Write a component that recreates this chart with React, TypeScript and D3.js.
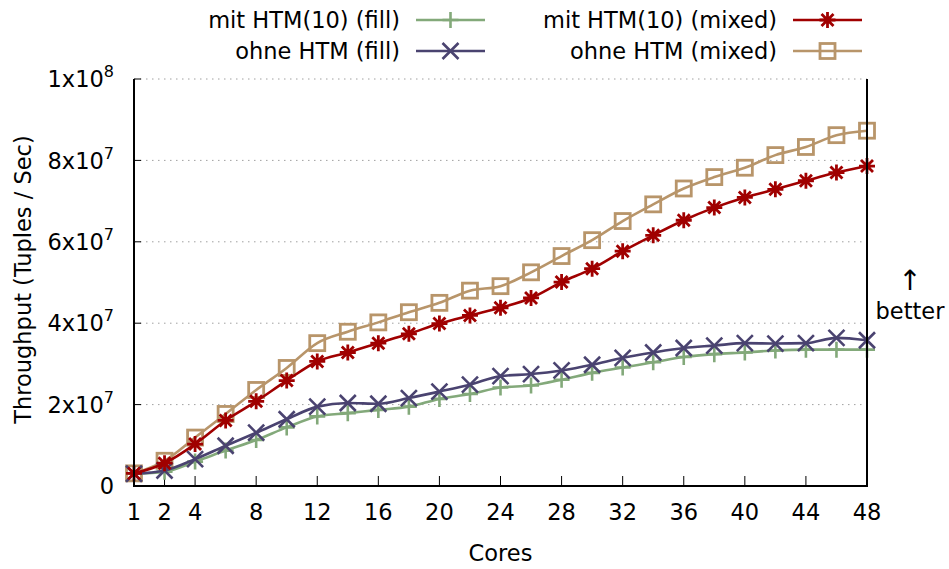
import React from 'react';
import * as d3 from 'd3';

// Cores measured (x axis); the 1-core run is drawn at the origin of the axis
const cores = [1, 2, 4, 6, 8, 10, 12, 14, 16, 18, 20, 22, 24, 26, 28, 30, 32, 34, 36, 38, 40, 42, 44, 46, 48];
const xTickCores = [1, 2, 4, 8, 12, 16, 20, 24, 28, 32, 36, 40, 44, 48];

// Throughput in millions of tuples / sec
const mitHtmFill = [3.0, 3.5, 6.0, 8.7, 11.3, 14.4, 17.1, 17.9, 18.7, 19.5, 21.4, 22.6, 24.2, 24.7, 26.1, 27.8, 29.1, 30.4, 31.7, 32.4, 32.8, 33.3, 33.5, 33.5, 33.5];
const ohneHtmFill = [3.0, 3.8, 6.6, 9.9, 13.1, 16.4, 19.5, 20.4, 20.2, 21.6, 23.2, 24.9, 27.0, 27.5, 28.4, 29.8, 31.5, 32.8, 33.9, 34.5, 35.1, 35.0, 35.1, 36.4, 35.8];
const mitHtmMixed = [3.1, 5.6, 10.3, 16.1, 20.8, 25.9, 30.6, 32.8, 35.1, 37.4, 39.9, 41.9, 43.8, 46.2, 50.1, 53.4, 57.7, 61.6, 65.3, 68.4, 70.9, 72.9, 75.0, 77.0, 78.6];
const ohneHtmMixed = [3.1, 6.2, 11.9, 17.7, 23.6, 29.0, 35.1, 37.9, 40.2, 42.7, 45.0, 48.0, 49.1, 52.5, 56.5, 60.4, 65.1, 69.2, 73.1, 75.9, 78.2, 81.3, 83.3, 86.2, 87.3];

const yTicks = [0, 2e7, 4e7, 6e7, 8e7, 1e8];

type Marker = 'plus' | 'cross' | 'star' | 'square';

const series: { label: string; values: number[]; color: string; marker: Marker }[] = [
  { label: 'ohne HTM (mixed)', values: ohneHtmMixed, color: '#b8956a', marker: 'square' },
  { label: 'mit HTM(10) (fill)', values: mitHtmFill, color: '#83a97a', marker: 'plus' },
  { label: 'ohne HTM (fill)', values: ohneHtmFill, color: '#4a4370', marker: 'cross' },
  { label: 'mit HTM(10) (mixed)', values: mitHtmMixed, color: '#a00000', marker: 'star' },
];

// legend layout: two columns, two rows (gnuplot key order)
const legendOrder = [
  { label: 'mit HTM(10) (fill)', col: 0, row: 0 },
  { label: 'ohne HTM (fill)', col: 0, row: 1 },
  { label: 'mit HTM(10) (mixed)', col: 1, row: 0 },
  { label: 'ohne HTM (mixed)', col: 1, row: 1 },
];

const FONT = 'DejaVu Sans, sans-serif';
const FS = 22.5;

const axisX = (c: number) => (c === 1 ? 0 : c);

function MarkerShape({ type, x, y, color }: { type: Marker; x: number; y: number; color: string }) {
  const s = 8;
  const d = 6;
  const common = { stroke: color, strokeWidth: 2.6, fill: 'none' };
  if (type === 'plus') {
    return <path d={`M${x - s},${y}H${x + s}M${x},${y - s}V${y + s}`} {...common} />;
  }
  if (type === 'cross') {
    return <path d={`M${x - s},${y - s}L${x + s},${y + s}M${x - s},${y + s}L${x + s},${y - s}`} {...common} />;
  }
  if (type === 'star') {
    return (
      <path
        d={`M${x - s},${y}H${x + s}M${x},${y - s}V${y + s}M${x - d},${y - d}L${x + d},${y + d}M${x - d},${y + d}L${x + d},${y - d}`}
        {...common}
        strokeWidth={2.8}
      />
    );
  }
  return <rect x={x - 7.5} y={y - 7.5} width={15} height={15} {...common} strokeWidth={2.8} />;
}

function TickLabel({ v }: { v: number }) {
  if (v === 0) return <tspan>0</tspan>;
  const exp = Math.floor(Math.log10(v));
  const mant = Math.round(v / Math.pow(10, exp));
  return (
    <>
      <tspan>{`${mant}x10`}</tspan>
      <tspan dy={-10} fontSize={16}>{exp}</tspan>
    </>
  );
}

const App = () => {
  const width = 949;
  const height = 569;
  const left = 134;
  const right = 867;
  const top = 79;
  const bottom = 486;

  const xScale = d3.scaleLinear().domain([0, 48]).range([left, right]);
  const yScale = d3.scaleLinear().domain([0, 1e8]).range([bottom, top]);

  const line = d3
    .line<number>()
    .x((_, i) => xScale(axisX(cores[i])))
    .y((v) => yScale(v * 1e6))
    .curve(d3.curveMonotoneX);

  const legendTextRight = [400, 777];
  const legendLineX = [416, 793];
  const legendRowY = [20, 51];

  return (
    <div style={{ position: 'absolute', left: 0, top: 0 }}>
      <svg width={width} height={height} style={{ display: 'block', background: '#fff' }} fontFamily={FONT}>
        {/* grid */}
        {yTicks.slice(1).map((t) => (
          <line
            key={t}
            x1={left}
            x2={right}
            y1={yScale(t)}
            y2={yScale(t)}
            stroke="#a0a0a0"
            strokeWidth={1}
            strokeDasharray="1.5,4.5"
          />
        ))}

        {/* y ticks */}
        {yTicks.map((t) => (
          <g key={t}>
            <line x1={left} x2={left + 7} y1={yScale(t)} y2={yScale(t)} stroke="#000" strokeWidth={1} />
            <text x={114} y={yScale(t)} dy="0.36em" textAnchor="end" fontSize={FS} fill="#000">
              <TickLabel v={t} />
            </text>
          </g>
        ))}

        {/* x ticks */}
        {xTickCores.map((c) => (
          <g key={c}>
            <line x1={xScale(axisX(c))} x2={xScale(axisX(c))} y1={bottom} y2={bottom - 10} stroke="#000" strokeWidth={1} />
            <text x={xScale(axisX(c))} y={520} textAnchor="middle" fontSize={FS} fill="#000">
              {c}
            </text>
          </g>
        ))}

        {/* series */}
        {series.map((s) => (
          <g key={s.label}>
            <path d={line(s.values) || ''} fill="none" stroke={s.color} strokeWidth={2.6} />
            {s.values.map((v, i) => (
              <MarkerShape key={i} type={s.marker} x={xScale(axisX(cores[i]))} y={yScale(v * 1e6)} color={s.color} />
            ))}
          </g>
        ))}

        {/* border: left, bottom, right */}
        <path d={`M${left},${top}V${bottom}H${right}V${top}`} fill="none" stroke="#000" strokeWidth={2} />

        {/* axis titles */}
        <text x={(left + right) / 2} y={561} textAnchor="middle" fontSize={FS} fill="#000">
          Cores
        </text>
        <text
          transform={`translate(31,${(top + bottom) / 2 - 3}) rotate(-90)`}
          textAnchor="middle"
          fontSize={FS}
          fill="#000"
        >
          Throughput (Tuples / Sec)
        </text>

        {/* better hint */}
        <text x={910} y={290} textAnchor="middle" fontSize={28} fill="#000">↑</text>
        <text x={910} y={319} textAnchor="middle" fontSize={FS} fill="#000">better</text>

        {/* legend */}
        {legendOrder.map((l) => {
          const s = series.find((d) => d.label === l.label)!;
          const y = legendRowY[l.row];
          const x0 = legendLineX[l.col];
          return (
            <g key={l.label}>
              <text x={legendTextRight[l.col]} y={y} dy="0.36em" textAnchor="end" fontSize={FS} fill="#000">
                {l.label}
              </text>
              <line x1={x0} x2={x0 + 69} y1={y} y2={y} stroke={s.color} strokeWidth={2.6} />
              <MarkerShape type={s.marker} x={x0 + 34.5} y={y} color={s.color} />
            </g>
          );
        })}
      </svg>
    </div>
  );
};

export default App;
